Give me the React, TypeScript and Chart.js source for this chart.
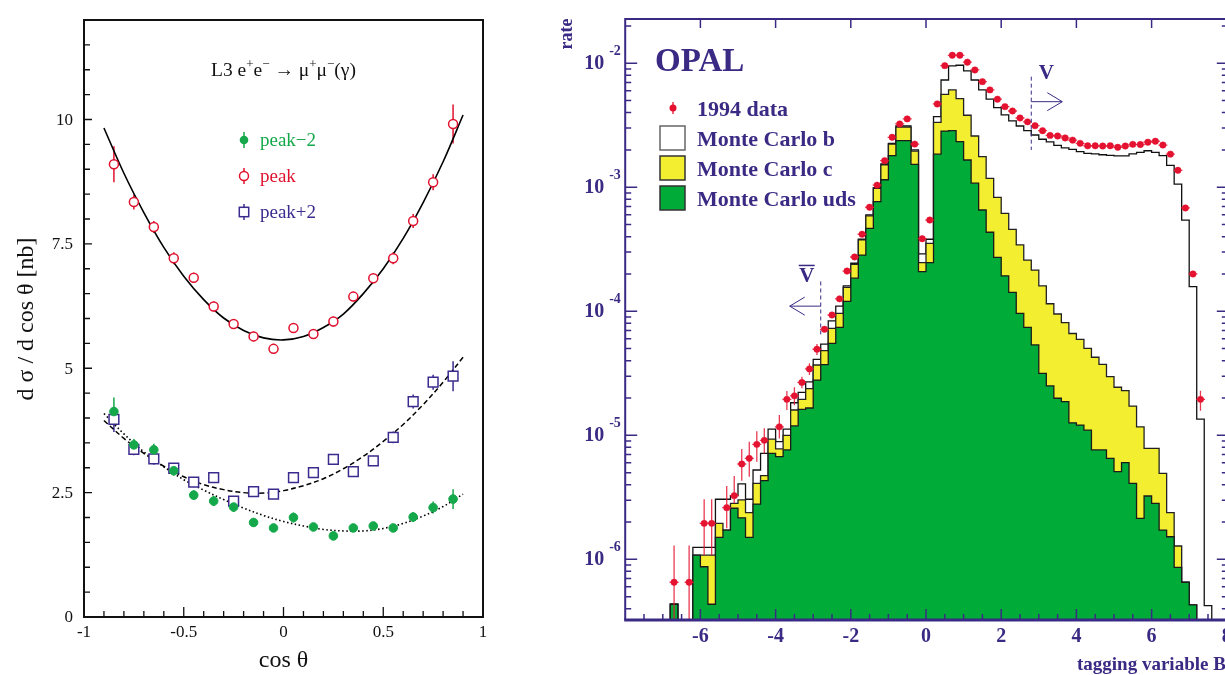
import React, { useEffect, useRef } from "react";
import { Chart, registerables } from "chart.js";

Chart.register(...registerables);

const SERIF = "'Liberation Serif', 'DejaVu Serif', 'Times New Roman', serif";

// ---------------- Left panel (L3) ----------------
const cosTheta = [-0.85, -0.75, -0.65, -0.55, -0.45, -0.35, -0.25, -0.15, -0.05, 0.05, 0.15, 0.25, 0.35, 0.45, 0.55, 0.65, 0.75, 0.85];
const peakMinus2 = [4.13, 3.46, 3.36, 2.94, 2.45, 2.33, 2.21, 1.9, 1.79, 2.0, 1.81, 1.63, 1.79, 1.83, 1.79, 2.01, 2.2, 2.37];
const peakMinus2Err = [0.28, 0.12, 0.12, 0.1, 0.1, 0.1, 0.1, 0.08, 0.08, 0.1, 0.08, 0.08, 0.08, 0.08, 0.08, 0.1, 0.12, 0.2];
const peakValues = [9.1, 8.34, 7.84, 7.21, 6.82, 6.24, 5.89, 5.64, 5.39, 5.81, 5.69, 5.94, 6.44, 6.81, 7.21, 7.96, 8.74, 9.91];
const peakErr = [0.36, 0.15, 0.12, 0.12, 0.1, 0.1, 0.1, 0.1, 0.1, 0.1, 0.1, 0.1, 0.1, 0.1, 0.12, 0.14, 0.16, 0.39];
const peakPlus2 = [3.97, 3.37, 3.18, 2.99, 2.71, 2.8, 2.33, 2.52, 2.47, 2.8, 2.9, 3.17, 2.92, 3.14, 3.61, 4.33, 4.72, 4.84];
const peakPlus2Err = [0.25, 0.12, 0.12, 0.1, 0.1, 0.1, 0.1, 0.1, 0.1, 0.1, 0.1, 0.1, 0.1, 0.1, 0.12, 0.14, 0.15, 0.3];

const fitX = [-0.9, -0.8, -0.7, -0.6, -0.5, -0.4, -0.3, -0.2, -0.1, 0, 0.1, 0.2, 0.3, 0.4, 0.5, 0.6, 0.7, 0.8, 0.9];
const fitPeak = [9.83, 8.92, 8.13, 7.43, 6.85, 6.38, 6.01, 5.76, 5.61, 5.57, 5.64, 5.82, 6.09, 6.5, 7.0, 7.61, 8.33, 9.15, 10.09];
const fitPlus2 = [3.95, 3.59, 3.29, 3.03, 2.82, 2.66, 2.56, 2.5, 2.49, 2.54, 2.64, 2.78, 2.98, 3.23, 3.53, 3.87, 4.27, 4.72, 5.22];
const fitMinus2 = [4.09, 3.68, 3.32, 3.02, 2.76, 2.55, 2.36, 2.19, 2.04, 1.92, 1.83, 1.76, 1.73, 1.73, 1.78, 1.88, 2.03, 2.22, 2.47];

const leftYTicks = [0, 2.5, 5, 7.5, 10];
const leftXTicks = [-1, -0.5, 0, 0.5, 1];
const leftLegend = ["peak\u22122", "peak", "peak+2"];

const GREEN = "#14a84a";
const RED = "#e0122e";
const BLUE = "#3c2b8e";

// ---------------- Right panel (OPAL) ----------------
// 80 bins of width 0.2 from -8 to 8
const binEdges = Array.from({ length: 81 }, (_, i) => Math.round((-8 + 0.2 * i) * 10) / 10);
const binCenters = binEdges.slice(0, 80).map((e) => Math.round((e + 0.1) * 100) / 100);

// stacked levels: uds, uds + c, uds + c + b
const stackUds = [
  0, 0, 0, 0, 0, 0, 4.34e-7, 0, 0, 1.08e-6,
  8.71e-7, 4.34e-7, 1.5e-6, 1.72e-6, 2.58e-6, 2.16e-6, 1.5e-6, 2.79e-6, 4.31e-6, 7.14e-6,
  6.73e-6, 7.62e-6, 1.19e-5, 1.62e-5, 1.66e-5, 2.79e-5, 3.71e-5, 5.52e-5, 7.41e-5, 1.2e-4,
  1.85e-4, 2.84e-4, 4.67e-4, 7.66e-4, 1.15e-3, 1.8e-3, 2.38e-3, 2.38e-3, 1.53e-3, 2.09e-4,
  2.47e-4, 1.85e-3, 2.84e-3, 2.86e-3, 2.33e-3, 1.66e-3, 1.08e-3, 6.56e-4, 4.34e-4, 2.72e-4,
  1.93e-4, 1.42e-4, 9.62e-5, 7.41e-5, 5.35e-5, 3.16e-5, 2.5e-5, 1.99e-5, 1.87e-5, 1.26e-5,
  1.21e-5, 1.1e-5, 7.62e-6, 7.62e-6, 6.52e-6, 5.09e-6, 6.01e-6, 4.1e-6, 2.14e-6, 3.24e-6,
  2.83e-6, 1.72e-6, 1.52e-6, 8.61e-7, 6.53e-7, 4.29e-7, 0, 0, 0, 0,
];
const stackUdsC = [
  0, 0, 0, 0, 0, 0, 4.34e-7, 0, 0, 1.08e-6,
  1.08e-6, 1.08e-6, 1.95e-6, 1.72e-6, 2.83e-6, 3.01e-6, 2.38e-6, 4.1e-6, 4.73e-6, 9.33e-6,
  7.76e-6, 1.0e-5, 1.6e-5, 1.95e-5, 2.38e-5, 3.69e-5, 4.81e-5, 7.29e-5, 9.62e-5, 1.56e-4,
  2.39e-4, 3.76e-4, 5.87e-4, 9.82e-4, 1.52e-3, 2.23e-3, 3.06e-3, 3.06e-3, 1.96e-3, 2.47e-4,
  3.53e-4, 3.34e-3, 5.62e-3, 6.1e-3, 5.19e-3, 3.81e-3, 2.59e-3, 1.77e-3, 1.18e-3, 8.3e-4,
  6.17e-4, 4.58e-4, 3.43e-4, 2.59e-4, 2.15e-4, 1.6e-4, 1.15e-4, 9.51e-5, 8.09e-5, 6.62e-5,
  5.94e-5, 5.02e-5, 4.26e-5, 3.73e-5, 2.97e-5, 2.44e-5, 2.29e-5, 1.72e-5, 1.17e-5, 7.85e-6,
  7.85e-6, 4.93e-6, 2.38e-6, 1.28e-6, 6.53e-7, 4.29e-7, 0, 0, 0, 0,
];
const stackAll = [
  0, 0, 0, 0, 0, 0, 4.34e-7, 0, 0, 1.25e-6,
  1.25e-6, 1.25e-6, 3.05e-6, 3.05e-6, 3.26e-6, 4.05e-6, 3.05e-6, 5.25e-6, 7.14e-6, 1.12e-5,
  8.89e-6, 1.12e-5, 1.83e-5, 2.22e-5, 2.7e-5, 4.1e-5, 5.44e-5, 8.36e-5, 1.1e-4, 1.6e-4,
  2.44e-4, 3.81e-4, 5.98e-4, 9.93e-4, 1.54e-3, 2.26e-3, 3.12e-3, 3.12e-3, 2.0e-3, 2.9e-4,
  3.81e-4, 3.72e-3, 7.33e-3, 9.51e-3, 9.64e-3, 8.67e-3, 7.33e-3, 6.1e-3, 5.13e-3, 4.39e-3,
  3.83e-3, 3.43e-3, 3.12e-3, 2.86e-3, 2.64e-3, 2.44e-3, 2.32e-3, 2.18e-3, 2.08e-3, 2.02e-3,
  1.94e-3, 1.88e-3, 1.86e-3, 1.83e-3, 1.81e-3, 1.79e-3, 1.79e-3, 1.86e-3, 1.91e-3, 1.97e-3,
  1.91e-3, 1.8e-3, 1.5e-3, 1.06e-3, 5.44e-4, 1.58e-4, 1.35e-5, 4.23e-7, 0, 0,
];
const dataRate: (number | null)[] = [
  null, null, null, null, null, null, 6.53e-7, null, 6.53e-7, null,
  1.95e-6, 1.95e-6, null, 2.61e-6, 3.26e-6, 5.87e-6, 6.52e-6, 8.45e-6, 9.1e-6, null,
  1.17e-5, 1.95e-5, 2.08e-5, 2.67e-5, 3.43e-5, 4.94e-5, 7.16e-5, 9.33e-5, 1.26e-4, 2.11e-4,
  2.74e-4, 4.18e-4, 6.9e-4, 1.04e-3, 1.64e-3, 2.53e-3, 3.24e-3, 3.56e-3, 2.23e-3, 3.85e-4,
  5.44e-4, 4.7e-3, 9.57e-3, 1.16e-2, 1.16e-2, 1.02e-2, 8.83e-3, 7.11e-3, 6.1e-3, 5.13e-3,
  4.47e-3, 4.12e-3, 3.62e-3, 3.37e-3, 3.14e-3, 2.86e-3, 2.62e-3, 2.59e-3, 2.5e-3, 2.4e-3,
  2.26e-3, 2.16e-3, 2.16e-3, 2.15e-3, 2.16e-3, 2.1e-3, 2.15e-3, 2.22e-3, 2.21e-3, 2.31e-3,
  2.35e-3, 2.19e-3, 1.85e-3, 1.37e-3, 6.81e-4, 2.0e-4, 1.95e-5, null, null, null,
];
const dataErrHi: (number | null)[] = dataRate.map(() => null);
const dataErrLo: (number | null)[] = dataRate.map(() => null);
// visible error bars: [bin, upper, lower]
const errRows: [number, number, number][] = [
  [6, 1.29e-6, 0], [8, 1.29e-6, 0], [10, 3.05e-6, 1.08e-6], [11, 3.05e-6, 1.08e-6],
  [13, 3.9e-6, 1.78e-6], [14, 4.7e-6, 2.83e-6], [15, 7.76e-6, 4.29e-6], [16, 8.89e-6, 4.63e-6],
  [17, 1.08e-5, 6.12e-6], [18, 1.14e-5, 7.14e-6], [20, 1.46e-5, 9.44e-6], [21, 2.28e-5, 1.6e-5],
  [22, 2.44e-5, 1.75e-5], [23, 2.97e-5, 2.39e-5], [24, 3.81e-5, 3.06e-5], [25, 5.44e-5, 4.45e-5],
  [76, 2.29e-5, 1.58e-5],
];
errRows.forEach(([k, hi, lo]) => { dataErrHi[k] = hi; dataErrLo[k] = lo; });

const xTickLabels = [-6, -4, -2, 0, 2, 4, 6, 8];
const yDecades = [-2, -3, -4, -5, -6];
const rightLegend = ["1994 data", "Monte Carlo b", "Monte Carlo c", "Monte Carlo uds"];
const cutV = 2.8;
const cutVbar = -2.8;

const PURPLE = "#3b2a84";
const DATA_RED = "#e5102f";
const MC_YELLOW = "#f4ee30";
const MC_GREEN = "#00ab38";

const Y_MIN = 3.24e-7;
const Y_MAX = 2.275e-2;
const RIGHT_OFFSET = 540; // left position of the right canvas on the page

function stepData(vals: number[]) {
  const pts = vals.map((v, i) => ({ x: binEdges[i], y: v > 0 ? v : 1e-12 }));
  pts.push({ x: binEdges[80], y: pts[pts.length - 1].y });
  return pts;
}

function drawRich(ctx: CanvasRenderingContext2D, parts: { t: string; sup?: boolean }[], cx: number, by: number, size: number) {
  const big = `${size}px ${SERIF}`;
  const small = `${Math.round(size * 0.68)}px ${SERIF}`;
  let w = 0;
  parts.forEach((p) => { ctx.font = p.sup ? small : big; w += ctx.measureText(p.t).width; });
  let xx = cx - w / 2;
  ctx.textAlign = "left";
  ctx.textBaseline = "alphabetic";
  parts.forEach((p) => {
    ctx.font = p.sup ? small : big;
    ctx.fillText(p.t, xx, p.sup ? by - size * 0.42 : by);
    xx += ctx.measureText(p.t).width;
  });
}

const leftDecor = {
  id: "leftDecor",
  beforeDatasetsDraw(chart: any) {
    const { ctx, scales: { x, y } } = chart;
    ctx.save();
    ctx.lineWidth = 1.5;
    const series = [
      { vals: peakMinus2, errs: peakMinus2Err, color: GREEN },
      { vals: peakValues, errs: peakErr, color: RED },
      { vals: peakPlus2, errs: peakPlus2Err, color: BLUE },
    ];
    for (const s of series) {
      ctx.strokeStyle = s.color;
      ctx.beginPath();
      s.vals.forEach((v, i) => {
        const px = x.getPixelForValue(cosTheta[i]);
        ctx.moveTo(px, y.getPixelForValue(v - s.errs[i]));
        ctx.lineTo(px, y.getPixelForValue(v + s.errs[i]));
      });
      ctx.stroke();
    }
    ctx.restore();
  },
  afterDraw(chart: any) {
    const { ctx, chartArea: a, scales: { x, y } } = chart;
    ctx.save();
    ctx.strokeStyle = "#111";
    ctx.fillStyle = "#111";
    ctx.lineWidth = 2;
    ctx.strokeRect(a.left, a.top, a.right - a.left, a.bottom - a.top);
    ctx.lineWidth = 1.3;
    ctx.beginPath();
    for (let i = 1; i < 24; i++) {
      const py = y.getPixelForValue(i * 0.5);
      ctx.moveTo(a.left, py);
      ctx.lineTo(a.left + (i % 5 === 0 ? 8 : 6), py);
    }
    for (let i = -9; i <= 9; i++) {
      const px = x.getPixelForValue(i / 10);
      ctx.moveTo(px, a.bottom);
      ctx.lineTo(px, a.bottom - (i % 5 === 0 ? 10 : 6));
    }
    ctx.stroke();

    ctx.font = `17px ${SERIF}`;
    ctx.textAlign = "right";
    ctx.textBaseline = "middle";
    leftYTicks.forEach((v) => ctx.fillText(String(v), a.left - 11, y.getPixelForValue(v) + 1));
    ctx.textAlign = "center";
    ctx.textBaseline = "alphabetic";
    leftXTicks.forEach((v) => ctx.fillText(String(v), x.getPixelForValue(v), a.bottom + 20));

    ctx.font = `24px ${SERIF}`;
    ctx.fillText("cos \u03b8", (a.left + a.right) / 2, 667);
    ctx.save();
    ctx.translate(27, 319);
    ctx.rotate(-Math.PI / 2);
    ctx.textBaseline = "middle";
    ctx.fillText("d \u03c3 / d cos \u03b8 [nb]", 0, 0);
    ctx.restore();

    drawRich(ctx, [
      { t: "L3 e" }, { t: "+", sup: true }, { t: "e" }, { t: "\u2212", sup: true },
      { t: " \u2192 \u03bc" }, { t: "+", sup: true }, { t: "\u03bc" }, { t: "\u2212", sup: true }, { t: "(\u03b3)" },
    ], (a.left + a.right) / 2, 76, 19.5);

    // legend
    const rows = [140, 176, 212];
    const cols = [GREEN, RED, BLUE];
    rows.forEach((ry, i) => {
      const mx = 244;
      ctx.strokeStyle = cols[i];
      ctx.fillStyle = cols[i];
      ctx.lineWidth = 1.5;
      ctx.beginPath();
      ctx.moveTo(mx, ry - 8);
      ctx.lineTo(mx, ry + 8);
      ctx.stroke();
      if (i === 0) {
        ctx.beginPath();
        ctx.arc(mx, ry, 4.3, 0, Math.PI * 2);
        ctx.fill();
      } else if (i === 1) {
        ctx.fillStyle = "#fff";
        ctx.beginPath();
        ctx.arc(mx, ry, 4.5, 0, Math.PI * 2);
        ctx.fill();
        ctx.stroke();
      } else {
        ctx.fillStyle = "#fff";
        ctx.fillRect(mx - 4.7, ry - 4.7, 9.4, 9.4);
        ctx.strokeRect(mx - 4.7, ry - 4.7, 9.4, 9.4);
      }
      ctx.fillStyle = cols[i];
      ctx.font = `19px ${SERIF}`;
      ctx.textAlign = "left";
      ctx.textBaseline = "middle";
      ctx.fillText(leftLegend[i], 260, ry + 1);
    });
    ctx.restore();
  },
};

const rightDecor = {
  id: "rightDecor",
  afterDatasetsDraw(chart: any) {
    const { ctx, chartArea: a, scales: { x, y } } = chart;
    ctx.save();
    ctx.beginPath();
    ctx.rect(a.left, a.top, a.right - a.left, a.bottom - a.top);
    ctx.clip();
    ctx.strokeStyle = "rgba(228,24,52,0.85)";
    ctx.lineWidth = 1.3;
    dataRate.forEach((v, i) => {
      if (v == null) return;
      const px = x.getPixelForValue(binCenters[i]);
      const py = y.getPixelForValue(v);
      ctx.beginPath();
      ctx.moveTo(px - 4.5, py);
      ctx.lineTo(px + 4.5, py);
      const hi = dataErrHi[i];
      const lo = dataErrLo[i];
      if (hi != null) { ctx.moveTo(px, py); ctx.lineTo(px, y.getPixelForValue(hi)); }
      if (lo != null) { ctx.moveTo(px, py); ctx.lineTo(px, lo > 0 ? y.getPixelForValue(lo) : a.bottom); }
      ctx.stroke();
    });
    ctx.restore();
  },
  afterDraw(chart: any) {
    const { ctx, chartArea: a, scales: { x, y } } = chart;
    const o = RIGHT_OFFSET;
    ctx.save();
    ctx.strokeStyle = PURPLE;
    ctx.fillStyle = PURPLE;
    // frame
    ctx.lineWidth = 2;
    ctx.beginPath();
    ctx.moveTo(a.left, a.bottom);
    ctx.lineTo(a.left, a.top);
    ctx.lineTo(a.right, a.top);
    ctx.lineTo(a.right, a.bottom);
    ctx.stroke();
    ctx.lineWidth = 3;
    ctx.beginPath();
    ctx.moveTo(a.left - 1, a.bottom);
    ctx.lineTo(a.right + 1, a.bottom);
    ctx.stroke();
    // y ticks
    ctx.lineWidth = 1.5;
    ctx.beginPath();
    for (let e = -7; e <= -1; e++) {
      for (let m = 1; m <= 9; m++) {
        const v = m * Math.pow(10, e);
        if (v < Y_MIN || v > Y_MAX) continue;
        const py = y.getPixelForValue(v);
        ctx.moveTo(a.left, py);
        ctx.lineTo(a.left + (m === 1 ? 12 : 6), py);
        ctx.moveTo(a.right, py);
        ctx.lineTo(a.right - (m === 1 ? 10 : 5), py);
      }
    }
    // x ticks
    for (let i = -15; i <= 15; i++) {
      const px = x.getPixelForValue(i / 2);
      const major = i % 4 === 0;
      ctx.moveTo(px, a.bottom);
      ctx.lineTo(px, a.bottom - (major ? 11 : 6));
      if (major) {
        ctx.moveTo(px, a.top);
        ctx.lineTo(px, a.top + 9);
      }
    }
    ctx.stroke();

    // tick labels
    ctx.font = `bold 20px ${SERIF}`;
    ctx.textAlign = "center";
    ctx.textBaseline = "alphabetic";
    xTickLabels.forEach((v) => ctx.fillText(String(v), x.getPixelForValue(v), a.bottom + 22));
    yDecades.forEach((e) => {
      const py = y.getPixelForValue(Math.pow(10, e));
      ctx.font = `bold 20px ${SERIF}`;
      ctx.textAlign = "right";
      ctx.textBaseline = "middle";
      ctx.fillText("10", a.left - 21, py + 1);
      ctx.font = `bold 14px ${SERIF}`;
      ctx.textAlign = "left";
      ctx.fillText(String(e), a.left - 16, py - 12);
    });

    // axis titles
    ctx.save();
    ctx.translate(567 - o, 34);
    ctx.rotate(-Math.PI / 2);
    ctx.font = `bold 18px ${SERIF}`;
    ctx.textAlign = "center";
    ctx.textBaseline = "middle";
    ctx.fillText("rate", 0, 0);
    ctx.restore();
    ctx.font = `bold 19px ${SERIF}`;
    ctx.textAlign = "left";
    ctx.textBaseline = "alphabetic";
    ctx.fillText("tagging variable B", 1077 - o, 670);

    // OPAL + legend
    ctx.font = `bold 33px ${SERIF}`;
    ctx.fillText("OPAL", 655 - o, 71);
    ctx.font = `bold 22px ${SERIF}`;
    ctx.fillText(rightLegend[0], 697 - o, 116);
    ctx.fillStyle = DATA_RED;
    ctx.strokeStyle = DATA_RED;
    ctx.lineWidth = 1.3;
    ctx.beginPath();
    ctx.moveTo(673 - o, 102);
    ctx.lineTo(673 - o, 114);
    ctx.stroke();
    ctx.beginPath();
    ctx.arc(673 - o, 108, 3.5, 0, Math.PI * 2);
    ctx.fill();
    const boxFill = ["#ffffff", MC_YELLOW, MC_GREEN];
    [126, 156, 186].forEach((by, i) => {
      ctx.fillStyle = boxFill[i];
      ctx.fillRect(660 - o, by, 25, 24);
      ctx.strokeStyle = i === 0 ? "#666" : "#333";
      ctx.lineWidth = 1.5;
      ctx.strokeRect(660 - o, by, 25, 24);
      ctx.fillStyle = PURPLE;
      ctx.font = `bold 22px ${SERIF}`;
      ctx.fillText(rightLegend[i + 1], 697 - o, by + 20);
    });

    // cut annotations
    ctx.strokeStyle = PURPLE;
    ctx.fillStyle = PURPLE;
    ctx.lineWidth = 1;
    const pv = x.getPixelForValue(cutV);
    const pvb = x.getPixelForValue(cutVbar);
    ctx.setLineDash([4, 3]);
    ctx.beginPath();
    ctx.moveTo(pv, y.getPixelForValue(7.8e-3));
    ctx.lineTo(pv, y.getPixelForValue(2.0e-3));
    ctx.moveTo(pvb, y.getPixelForValue(1.74e-4));
    ctx.lineTo(pvb, y.getPixelForValue(6.2e-5));
    ctx.stroke();
    ctx.setLineDash([]);
    const ya = y.getPixelForValue(4.9e-3);
    const yb = y.getPixelForValue(1.1e-4);
    ctx.beginPath();
    ctx.moveTo(pv, ya);
    ctx.lineTo(pv + 31, ya);
    ctx.moveTo(pv + 16, ya - 9);
    ctx.lineTo(pv + 31, ya);
    ctx.lineTo(pv + 16, ya + 9);
    ctx.moveTo(pvb, yb);
    ctx.lineTo(pvb - 31, yb);
    ctx.moveTo(pvb - 16, yb - 9);
    ctx.lineTo(pvb - 31, yb);
    ctx.lineTo(pvb - 16, yb + 9);
    ctx.stroke();
    ctx.font = `bold 21px ${SERIF}`;
    ctx.textAlign = "center";
    ctx.fillText("V", pv + 15, y.getPixelForValue(7.8e-3) + 2);
    const vby = y.getPixelForValue(1.74e-4) + 1;
    ctx.fillText("V", pvb - 14, vby);
    ctx.lineWidth = 1.5;
    ctx.beginPath();
    ctx.moveTo(pvb - 22, vby - 17);
    ctx.lineTo(pvb - 6, vby - 17);
    ctx.stroke();
    ctx.restore();
  },
};

function LeftChart() {
  const ref = useRef<HTMLCanvasElement>(null);
  useEffect(() => {
    const pts = (vals: number[]) => vals.map((v, i) => ({ x: cosTheta[i], y: v }));
    const fit = (vals: number[]) => vals.map((v, i) => ({ x: fitX[i], y: v }));
    const chart = new Chart(ref.current!, {
      type: "scatter",
      data: {
        datasets: [
          { data: pts(peakMinus2), pointRadius: 4.3, pointBackgroundColor: GREEN, pointBorderColor: GREEN, pointBorderWidth: 1, order: 0 },
          { data: pts(peakValues), pointRadius: 4.5, pointBackgroundColor: "#fff", pointBorderColor: RED, pointBorderWidth: 1.5, order: 1 },
          { data: pts(peakPlus2), pointStyle: "rect", pointRadius: 6.9, pointBackgroundColor: "#fff", pointBorderColor: BLUE, pointBorderWidth: 1.5, order: 2 },
          { data: fit(fitPeak), showLine: true, pointRadius: 0, borderColor: "#000", borderWidth: 1.6, tension: 0.35, order: 3 },
          { data: fit(fitPlus2), showLine: true, pointRadius: 0, borderColor: "#000", borderWidth: 1.5, borderDash: [5, 3], tension: 0.35, order: 4 },
          { data: fit(fitMinus2), showLine: true, pointRadius: 0, borderColor: "#000", borderWidth: 1.6, borderDash: [1.5, 2.5], tension: 0.35, order: 5 },
        ],
      } as any,
      options: {
        animation: false,
        responsive: false,
        events: [],
        layout: { padding: { left: 84, top: 20, right: 57, bottom: 58 } },
        scales: {
          x: { type: "linear", min: -1, max: 1, display: false },
          y: { type: "linear", min: 0, max: 12, display: false },
        },
        plugins: { legend: { display: false }, tooltip: { enabled: false } },
      },
      plugins: [leftDecor],
    });
    return () => chart.destroy();
  }, []);
  return <canvas ref={ref} width={540} height={675} style={{ position: "absolute", left: 0, top: 0, width: 540, height: 675 }} />;
}

function RightChart() {
  const ref = useRef<HTMLCanvasElement>(null);
  useEffect(() => {
    const dataPts = dataRate
      .map((v, i) => (v == null ? null : { x: binCenters[i], y: v }))
      .filter((p) => p !== null);
    const chart = new Chart(ref.current!, {
      type: "scatter",
      data: {
        datasets: [
          { type: "scatter", data: dataPts, pointRadius: 3.2, pointBackgroundColor: DATA_RED, pointBorderColor: DATA_RED, pointBorderWidth: 0.5, order: 0 },
          { type: "line", data: stepData(stackUds), stepped: "before", pointRadius: 0, borderColor: "#1b1b1b", borderWidth: 1.3, backgroundColor: MC_GREEN, fill: "start", order: 1 },
          { type: "line", data: stepData(stackUdsC), stepped: "before", pointRadius: 0, borderColor: "#222", borderWidth: 1.3, backgroundColor: MC_YELLOW, fill: "start", order: 2 },
          { type: "line", data: stepData(stackAll), stepped: "before", pointRadius: 0, borderColor: "#111", borderWidth: 1.3, backgroundColor: "#ffffff", fill: "start", order: 3 },
        ],
      } as any,
      options: {
        animation: false,
        responsive: false,
        events: [],
        layout: { padding: { left: 85.2, top: 19, right: 13.2, bottom: 55 } },
        scales: {
          x: { type: "linear", min: -8, max: 8, display: false },
          y: { type: "logarithmic", min: Y_MIN, max: Y_MAX, display: false },
        },
        plugins: { legend: { display: false }, tooltip: { enabled: false } },
      },
      plugins: [rightDecor],
    });
    return () => chart.destroy();
  }, []);
  return <canvas ref={ref} width={700} height={675} style={{ position: "absolute", left: RIGHT_OFFSET, top: 0, width: 700, height: 675 }} />;
}

export default function App() {
  return (
    <div style={{ position: "fixed", left: 0, top: 0, width: 1225, height: 675, overflow: "hidden", background: "#fff" }}>
      <LeftChart />
      <RightChart />
    </div>
  );
}
